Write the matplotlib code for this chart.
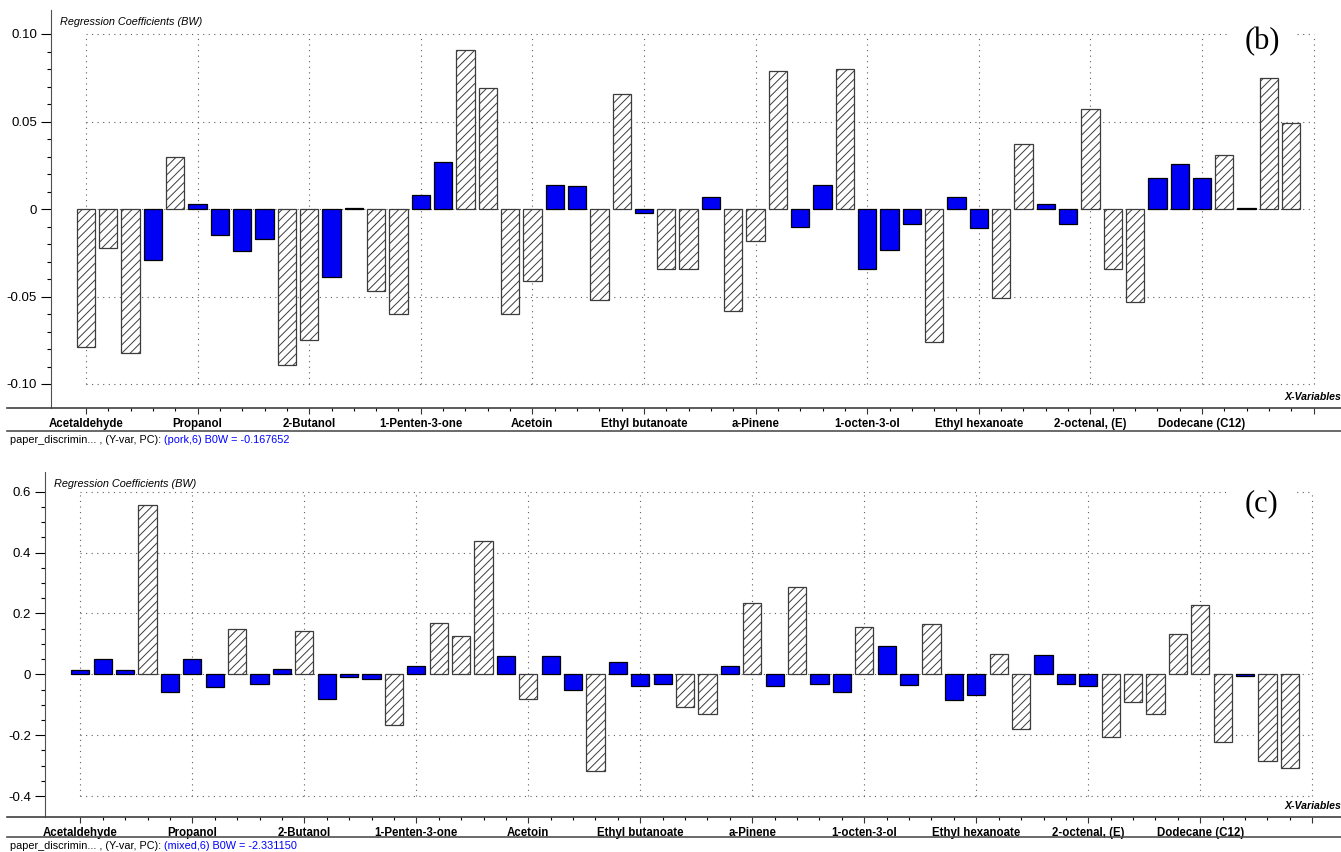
import numpy as np
import matplotlib
matplotlib.use("Agg")
import matplotlib.pyplot as plt
from matplotlib.lines import Line2D

plt.rcParams['font.family'] = ['Liberation Sans Narrow', 'Liberation Sans', 'DejaVu Sans']
plt.rcParams['hatch.linewidth'] = 0.7

# x-variable names shown on the axis (every 5th variable)
tick_labels = ['Acetaldehyde', 'Propanol', '2-Butanol', '1-Penten-3-one', 'Acetoin',
               'Ethyl butanoate', 'a-Pinene', '1-octen-3-ol', 'Ethyl hexanoate',
               '2-octenal, (E)', 'Dodecane (C12)']

# regression coefficients, (pork,6)
coef_pork = [-0.079, -0.022, -0.082, -0.029, 0.030, 0.003, -0.015, -0.024, -0.017, -0.089,
             -0.075, -0.039, 0.0006, -0.047, -0.060, 0.008, 0.027, 0.091, 0.069, -0.060,
             -0.041, 0.014, 0.013, -0.052, 0.066, -0.0025, -0.034, -0.034, 0.007, -0.058,
             -0.0185, 0.079, -0.010, 0.014, 0.080, -0.0345, -0.0236, -0.0086, -0.076, 0.007,
             -0.011, -0.051, 0.037, 0.003, -0.0086, 0.057, -0.0345, -0.053, 0.018, 0.0255,
             0.018, 0.031, 0.0006, 0.075, 0.049]
# 1 = significant (solid blue), 0 = hatched
sig_pork = [0, 0, 0, 1, 0, 1, 1, 1, 1, 0,
            0, 1, 1, 0, 0, 1, 1, 0, 0, 0,
            0, 1, 1, 0, 0, 1, 0, 0, 1, 0,
            0, 0, 1, 1, 0, 1, 1, 1, 0, 1,
            1, 0, 0, 1, 1, 0, 0, 0, 1, 1,
            1, 0, 1, 0, 0]

# regression coefficients, (mixed,6)
coef_mixed = [0.013, 0.050, 0.013, 0.558, -0.057, 0.050, -0.042, 0.148, -0.033, 0.016,
              0.141, -0.080, -0.010, -0.015, -0.165, 0.027, 0.169, 0.125, 0.438, 0.059,
              -0.080, 0.059, -0.050, -0.318, 0.039, -0.039, -0.033, -0.108, -0.131, 0.026,
              0.233, -0.039, 0.287, -0.033, -0.059, 0.154, 0.092, -0.036, 0.166, -0.085,
              -0.069, 0.066, -0.181, 0.062, -0.033, -0.039, -0.207, -0.092, -0.131, 0.134,
              0.228, -0.224, -0.007, -0.286, -0.307]
sig_mixed = [1, 1, 1, 0, 1, 1, 1, 0, 1, 1,
             0, 1, 1, 1, 0, 1, 0, 0, 0, 1,
             0, 1, 1, 0, 1, 1, 1, 0, 0, 1,
             0, 1, 0, 1, 1, 0, 1, 1, 0, 1,
             1, 0, 0, 1, 1, 1, 0, 0, 0, 0,
             0, 0, 1, 0, 0]

W, H = 1341, 852
fig = plt.figure(figsize=(W / 100, H / 100), dpi=100)
fig.patch.set_facecolor('white')


def px_axes(x0, y0, x1, y1):
    return fig.add_axes([x0 / W, 1 - y1 / H, (x1 - x0) / W, (y1 - y0) / H])


def panel(top, bottom, spine_px, x_first, step, zero_px, unit_px, vals, sig,
          yticks, ytick_text, minor_step, letter, sep, status_blue):
    ax = px_axes(7, top, W, bottom)
    n = len(vals)
    x = np.arange(n)
    vals = np.array(vals)
    sig = np.array(sig, dtype=bool)
    hgt = bottom - top

    ax.set_xlim((7 - x_first) / step, (W - x_first) / step)
    ax.set_ylim(-(bottom - zero_px) / unit_px, (zero_px - top) / unit_px)

    # dotted grid only over the labelled range
    dots = (0, (1, 4))
    ax.hlines(yticks, 0, n, colors='#606060', linestyles=dots, lw=0.8, zorder=0)
    ax.vlines(np.arange(0, n + 1, 5), min(yticks), max(yticks),
              colors='#606060', linestyles=dots, lw=0.8, zorder=0)

    ax.bar(x[~sig], vals[~sig], width=0.82, color='white', edgecolor='#3c3c3c',
           hatch='////', lw=0.9, zorder=2)
    ax.bar(x[sig], vals[sig], width=0.82, color='#0000f5', edgecolor='black',
           lw=0.9, zorder=2)

    for s in ('top', 'right'):
        ax.spines[s].set_visible(False)
    ax.spines['left'].set_position(('data', (spine_px - x_first) / step))
    ax.spines['left'].set_color('#505050')
    ax.spines['bottom'].set_color('#404040')
    ax.spines['bottom'].set_linewidth(1.2)

    ax.set_xticks(np.arange(0, n + 1, 5))
    ax.set_xticks(np.arange(0, n + 1), minor=True)
    ax.set_xticklabels(tick_labels + [''], fontsize=8.3, fontweight='bold')
    ax.tick_params(axis='x', which='major', length=4.5, width=0.8, pad=3, colors='#333333')
    ax.tick_params(axis='x', which='minor', length=2.2, width=0.8)
    for t in ax.get_xticklabels():
        t.set_color('black')

    ax.set_yticks(yticks)
    ax.set_yticklabels(ytick_text, fontsize=9.5)
    ax.set_yticks(np.arange(min(yticks), max(yticks) + minor_step / 2, minor_step), minor=True)
    ax.tick_params(axis='y', which='major', length=7, width=0.8, pad=3)
    ax.tick_params(axis='y', which='minor', length=3, width=0.8)

    ax.text((spine_px + 9 - 7) / (W - 7), 1 - 12 / hgt,
            'Regression Coefficients (BW)', transform=ax.transAxes,
            fontsize=7.8, style='italic', va='center', ha='left')
    ax.text(1.0, 11 / hgt, 'X-Variables', transform=ax.transAxes,
            fontsize=7.6, style='italic', fontweight='bold', va='center', ha='right')
    ax.text((1262 - 7) / (W - 7), 1 - 32 / hgt, letter,
            transform=ax.transAxes, fontsize=22, family=['Liberation Serif', 'DejaVu Serif'],
            ha='center', va='center', zorder=3,
            bbox=dict(fc='white', ec='none', pad=11))

    # status line under the panel
    fig.add_artist(Line2D([7 / W, 1], [1 - sep / H] * 2, color='#505050', lw=1.2))
    t1 = fig.text(10 / W, 1 - (sep + 9) / H, 'paper_discrimin... , (Y-var, PC): ',
                  fontsize=7.8, va='center', ha='left')
    ax.annotate(status_blue, xy=(1, 0.5), xycoords=t1, va='center', ha='left',
                fontsize=7.8, color='#0000ff', annotation_clip=False)
    return ax


panel(10, 408, 51, 86, 22.32, 209, 1750, coef_pork, sig_pork,
      [-0.10, -0.05, 0, 0.05, 0.10], ['-0.10', '-0.05', '0', '0.05', '0.10'],
      0.01, '(b)', 431, '(pork,6) B0W = -0.167652')

panel(472, 817, 45, 80.3, 22.4, 674.3, 304.3, coef_mixed, sig_mixed,
      [-0.4, -0.2, 0, 0.2, 0.4, 0.6], ['-0.4', '-0.2', '0', '0.2', '0.4', '0.6'],
      0.05, '(c)', 837, '(mixed,6) B0W = -2.331150')

fig.savefig('out.png', dpi=100, facecolor='white')
